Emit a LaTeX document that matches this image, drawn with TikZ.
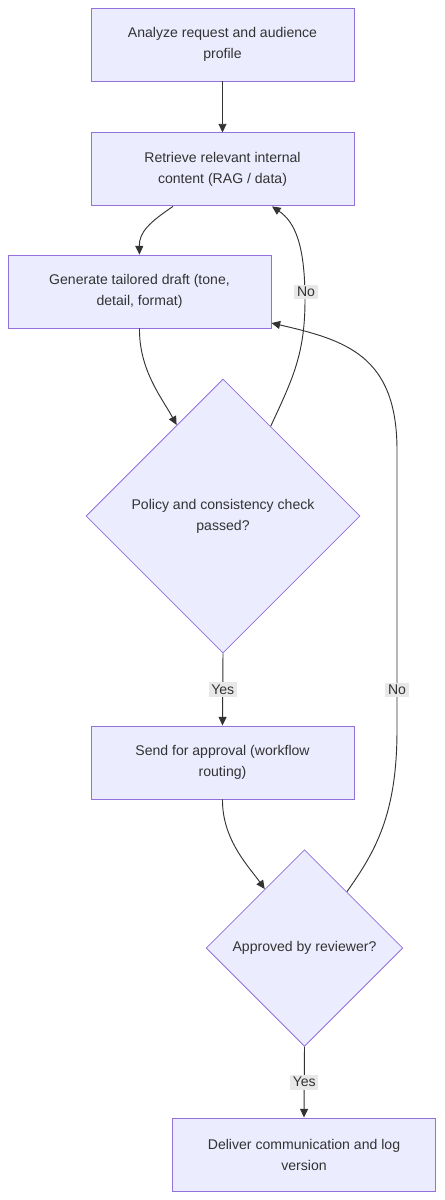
\documentclass[tikz,border=0pt]{standalone}
\usepackage{fontspec}
\setmainfont{Liberation Sans}
\usetikzlibrary{positioning,shapes.geometric,arrows.meta}

\definecolor{boxfill}{HTML}{ECECFF}
\definecolor{boxline}{HTML}{9370DB}
\definecolor{ink}{HTML}{333333}
\definecolor{tagfill}{HTML}{E8E8E8}

\begin{document}
\begin{tikzpicture}[x=0.03cm, y=-0.03cm,
	>={Triangle[length=2.6mm,width=2.4mm]},
	stepbox/.style = { draw=boxline, fill=boxfill, line width=0.8pt,
			minimum width=7.89cm, minimum height=2.19cm,
			text=ink, align=center,
			font=\fontsize{12}{17.9}\selectfont },
	choice/.style = { diamond, aspect=1, draw=boxline, fill=boxfill,
			line width=0.7pt, inner sep=0pt, text=ink, align=center,
			font=\fontsize{12}{17.9}\selectfont },
	tag/.style = { fill=tagfill, text=ink, inner sep=2.2pt,
			font=\fontsize{12}{14}\selectfont },
	flow/.style = { ->, draw=ink, line width=0.8pt }]

  \useasboundingbox (0,0) rectangle (444,1200);

  \node[name=analyze, stepbox] at (222.5,44.5)
	{Analyze request and audience\\profile};
  \node[name=retrieve, stepbox, below=1.53cm of analyze]
	{Retrieve relevant internal\\content (RAG / data)};
  \node[name=draft, stepbox] at (139.5,291.5)
	{Generate tailored draft (tone,\\detail, format)};
  \node[name=policy, choice, minimum size=8.22cm] at (223,516)
	{Policy and consistency check\\passed?};
  \node[name=approval, stepbox] at (222.5,762.5)
	{Send for approval (workflow\\routing)};
  \node[name=reviewer, choice, minimum size=5.9cm] at (304.5,948)
	{Approved by reviewer?};
  \node[name=deliver, stepbox] at (304,1154.5)
	{Deliver communication and log\\version};

  \draw [flow] (analyze) -- (retrieve);
  \draw [flow] (retrieve.south -| 173,0) .. controls (150,222) and (139,232) ..
	(draft.north);
  \draw [flow] (draft.south) .. controls (139,370) and (162,398) ..
	(policy.117.6);
  \draw [flow] (policy.62.9) .. controls (292,380) and (305,355) ..
	(305,300) .. controls (305,245) and (295,222) .. (retrieve.south -| 272,0);
  \node[name=no1, tag] at (306,292) {No};
  \draw [flow] (policy.south) -- (approval.north)
	node [name=yes1, tag, midway] {Yes};
  \draw [flow] (approval.south) .. controls (222,840) and (250,868) ..
	(reviewer.124.3);
  \draw [flow] (reviewer.53.3) .. controls (375,852) and (397,815) ..
	(397,730) -- (397,450) .. controls (397,355) and (345,340) ..
	(draft.south east |- 0,323);
  \node[name=no2, tag] at (397,690) {No};
  \draw [flow] (reviewer.south) -- (deliver.north)
	node [name=yes2, tag, midway] {Yes};
\end{tikzpicture}
\end{document}
